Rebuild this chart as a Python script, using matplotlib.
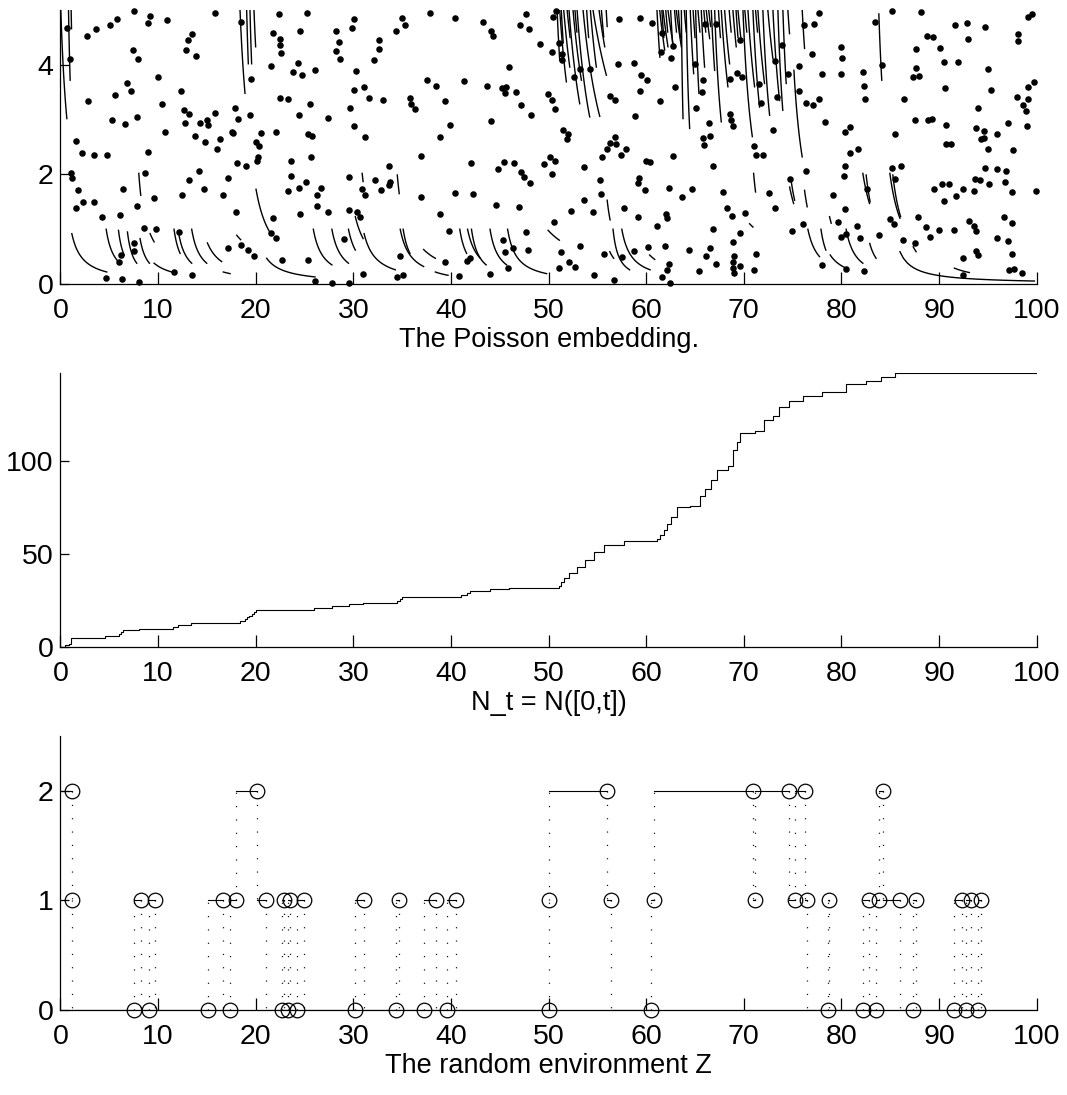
import os
import numpy as np
import matplotlib
matplotlib.use('Agg')
import matplotlib.pyplot as plt
from matplotlib import font_manager as fm

# MATLAB-style narrow Helvetica: take Liberation Sans Narrow if it is there
narrow = [f for f in fm.fontManager.ttflist
          if f.name.startswith('Liberation Sans')
          and ('Narrow' in f.name or 'Narrow' in os.path.basename(f.fname)
               or f.stretch in ('condensed', 'semi-condensed'))]
if narrow:
    plt.rcParams['font.family'] = [narrow[0].name, 'DejaVu Sans']
    plt.rcParams['font.stretch'] = narrow[0].stretch
    tick_fs, label_fs = 22.5, 23.5
else:
    plt.rcParams['font.family'] = ['Liberation Sans', 'DejaVu Sans']
    tick_fs, label_fs = 20.5, 19.5
plt.rcParams['lines.scale_dashes'] = False

# ---- top panel: Poisson points (t, u) ----
pts_a = [(0.68,4.67),(0.99,4.11),(1.09,2.02),(1.13,1.94),(1.60,2.61),(1.60,1.39),(1.84,1.71),
         (2.22,2.39),(2.32,1.49),(2.76,4.53),(2.83,3.34),(3.45,2.35),(3.48,1.49),(3.68,4.65),
         (4.23,1.22),(4.67,0.11),(4.81,2.35),(5.08,4.72),(5.29,3.00),(5.60,3.45),(5.83,4.84),
         (6.04,0.40),(6.18,0.53),(6.35,0.09),(6.41,1.74),(6.58,2.92),(6.11,1.26),(6.82,3.66),
         (7.23,3.52),(7.47,4.28),(7.51,4.99),(7.54,0.74),(7.57,0.60),(7.81,1.43),(7.88,3.05),
         (7.98,4.10),(8.09,0.04),(8.60,1.03),(8.70,2.02),(8.94,2.41),(9.01,4.77),(9.14,4.89),
         (9.62,1.57),(9.79,1.00),(10.00,3.77),(10.37,3.29),(10.68,2.78),(10.95,4.81),(11.60,0.22),
         (12.11,0.95),(12.35,3.52),(12.45,1.63),(12.69,3.17),(12.73,2.93),(12.86,4.28),(13.03,4.46),
         (13.14,3.11),(13.20,1.90),(13.51,4.56),(13.51,0.16),(13.75,2.70),(13.92,4.17),(14.16,2.07),
         (14.26,2.93),(14.74,1.73),(14.84,2.59),(14.98,2.99),(15.08,2.90),(15.86,3.12),(15.86,4.94),
         (16.07,2.47),(16.34,2.64),(16.62,1.62),(17.20,1.94),(17.20,0.65),(17.57,2.78),(17.71,2.75),
         (17.88,3.21),(18.01,1.32),(18.15,3.01),(18.12,2.21),(18.46,4.79),(18.53,0.72),(18.97,2.15),
         (19.24,0.62),(19.41,3.09),(19.52,3.74),(19.86,0.51),(19.99,2.59),(20.27,2.32),(20.37,2.52),
         (20.16,2.24),(20.51,2.75),(21.56,3.98),(21.73,1.20),(21.80,4.59),(22.04,2.77),(22.04,0.84),
         (21.53,0.94),(22.35,4.92),(22.48,4.48),(22.48,4.36),(22.55,4.21),(22.45,3.40),(22.69,0.44),
         (23.30,3.37),(23.27,1.70),(23.58,2.25),(23.58,1.97),(23.85,3.87),(24.36,4.03),(24.43,3.08),
         (24.53,4.62),(24.53,1.28),(24.43,1.76),(24.74,3.82),(25.11,1.86),(25.28,4.95),(25.35,0.44),
         (25.38,2.74),(25.55,3.28),(25.69,2.31),(25.72,2.70),(26.03,3.91),(26.07,0.06),(26.31,1.63),
         (26.31,1.43),(26.71,1.76),(27.36,1.32),(27.40,3.03),(27.84,0.01),(28.22,4.26),(28.22,4.62),
         (28.56,4.41),(28.59,4.11),(29.03,0.83),(29.51,1.96),(29.51,1.36),(29.58,0.01),(29.61,3.22)]
pts_b = [(30.02,4.83),(29.82,4.67),(30.02,2.88),(30.30,3.88),(30.09,3.54),(31.15,2.68),(31.12,3.59),
         (31.56,3.40),(30.33,1.31),(30.67,1.23),(30.98,0.19),(30.91,1.74),(31.22,1.63),(32.14,4.08),
         (32.21,1.89),(32.58,4.45),(32.58,4.29),(32.86,1.72),(33.03,3.35),(33.64,2.15),(33.67,1.80),
         (33.74,1.87),(34.32,4.61),(34.97,4.86),(35.24,4.72),(34.49,0.12),(35.07,0.16),(34.80,0.52),
         (35.79,3.40),(35.89,3.29),(36.30,3.20),(36.92,1.58),(36.98,2.33),(37.56,3.72),(37.90,4.95),
         (38.42,3.61),(38.86,1.27),(38.86,2.68),(39.41,3.34),(39.34,0.40),(39.75,0.96),(39.95,2.90),
         (40.40,4.86),(40.43,1.67),(40.84,0.14),(41.35,3.71),(41.69,0.42),(41.97,0.47),(42.00,2.21),
         (42.27,1.65),(43.23,4.79),(43.64,3.61),(43.98,0.19),(44.08,2.97),(44.15,4.62),(44.35,4.52),
         (44.66,1.45),(44.80,2.10),(45.27,3.57),(45.31,0.80),(45.48,2.22),(45.58,3.48),(45.65,3.59),
         (45.58,0.58),(45.85,0.29),(45.96,3.97),(46.40,0.65),(46.43,2.21),(46.61,3.51),(46.95,1.41),
         (47.05,4.72),(47.15,3.26),(47.22,2.04),(47.49,1.95),(47.73,0.95),(47.70,4.92),(47.90,0.62),
         (47.97,4.66),(48.11,1.85),(48.21,3.09),(49.16,4.38),(49.57,2.19),(49.95,3.47),(50.12,2.32),
         (50.32,2.00),(50.39,3.35),(50.36,4.24),(50.43,4.87),(50.63,2.25),(50.70,3.20),(50.56,1.14),
         (50.73,4.98),(51.04,0.30),(51.04,4.39),(51.31,0.58),(51.38,4.08),(51.42,4.19),(51.52,2.82),
         (51.96,2.73),(51.89,2.65),(52.10,0.40),(52.27,1.33),(52.58,3.77),(52.71,0.32),(53.26,3.93),
         (53.26,0.70),(53.63,2.13),(53.63,1.53),(54.25,3.93),(54.52,1.31),(54.62,0.17),(55.27,1.90),
         (55.37,1.64),(55.51,2.32),(55.68,0.55),(56.02,2.47),(56.26,2.58),(56.29,3.43),(56.81,3.35),
         (56.74,0.07),(56.81,2.69),(56.91,2.55),(57.18,4.84),(57.15,4.01),(57.39,2.36),(57.56,0.49),
         (57.76,1.39),(57.93,2.46),(58.78,0.61),(58.82,3.06),(58.78,4.04),(59.16,1.22),(59.19,1.85),
         (59.29,1.94),(59.33,4.86),(59.43,3.82),(59.40,3.53),(59.84,1.71),(59.94,2.25),(60.15,0.67),
         (60.12,3.72),(60.35,2.22),(60.63,4.77),(61.14,1.06),(61.38,3.34),(61.65,0.13),(61.89,0.70),
         (62.00,1.28),(62.13,1.20),(62.10,0.26),(62.30,1.76),(62.34,0.36),(62.41,0.02),(62.74,2.33),
         (62.92,3.59),(63.70,1.59),(64.38,0.62),(64.69,1.74),(65.00,4.01),(65.13,3.22),(65.40,0.24),
         (61.58,4.59),(61.55,4.24),(62.78,4.35),(62.51,4.13)]
pts_c = [(65.81,3.73),(65.68,3.50),(65.98,4.75),(67.18,4.75),(66.39,2.93),(66.50,2.70),(65.78,2.66),
         (65.88,2.53),(66.84,2.16),(66.87,1.01),(66.53,0.66),(66.09,0.52),(67.14,0.36),(67.83,1.68),
         (68.24,1.38),(68.78,1.25),(68.54,3.75),(68.61,3.10),(68.71,3.00),(68.88,2.89),(69.29,3.85),
         (69.57,4.46),(69.77,3.78),(70.08,1.30),(69.60,0.93),(68.92,0.77),(68.99,0.52),(68.88,0.40),
         (68.88,0.30),(68.99,0.21),(69.60,0.33),(71.07,2.52),(71.24,2.35),(71.96,2.35),(71.00,0.26),
         (71.20,0.54),(71.55,3.65),(71.72,3.31),(72.60,1.67),(73.22,1.38),(73.01,2.82),(73.18,4.07),
         (73.38,3.42),(73.93,4.36),(74.51,3.83),(74.72,1.91),(74.89,0.96),(75.64,3.98),(75.64,3.52),
         (76.12,4.73),(76.01,1.09),(76.32,3.30),(76.39,2.06),(76.94,4.20),(77.11,3.26),(77.17,4.74),
         (77.65,4.94),(77.69,3.38),(77.96,3.83),(78.00,0.35),(78.30,2.96),(79.09,1.63),(79.60,1.14),
         (79.93,4.33),(80.06,4.12),(79.93,3.83),(80.35,2.77),(80.38,2.15),(80.27,1.97),(80.35,1.37),
         (80.48,0.92),(79.93,0.85),(80.48,0.27),(80.89,2.39),(80.89,2.86),(81.68,2.46),(81.64,1.06),
         (81.92,0.84),(82.19,3.87),(82.36,3.61),(82.43,3.38),(82.57,1.73),(82.29,0.24),(83.43,4.78),
         (83.83,0.89),(84.20,4.00),(85.16,4.98),(85.16,2.12),(85.50,2.73),(85.53,1.91),(85.01,1.18),
         (85.39,1.09),(86.14,2.16),(86.35,0.81),(86.39,3.38),(87.55,0.75),(87.62,4.29),(87.65,3.95),
         (87.31,3.77),(87.92,3.79),(87.79,1.23),(88.16,4.96),(87.55,2.99),(88.67,1.04),(88.81,4.52),
         (89.05,0.86),(89.36,4.50),(88.87,2.99),(89.25,3.01),(89.46,1.73),(90.00,0.98),(90.14,4.31),
         (90.31,1.82),(90.48,4.06),(90.48,1.52),(90.62,3.57),(90.75,2.90),(90.72,2.56),(91.27,2.55),
         (91.06,1.82),(91.50,0.98),(91.67,4.73),(91.71,1.60),(91.98,4.06),(92.46,1.74),(92.46,0.47),
         (92.43,0.16),(92.90,4.76),(92.94,4.48),(93.07,1.15),(93.62,1.06),(93.82,0.97),(93.55,1.70),
         (93.69,1.92),(93.76,2.84),(93.79,0.61),(94.03,0.53),(93.96,3.22),(94.23,1.89),(94.27,2.64),
         (94.64,2.67),(94.64,2.80),(94.68,2.11),(94.75,4.70),(95.06,3.93),(95.06,2.46),(95.16,1.82),
         (95.30,3.54),(95.91,2.10),(95.98,2.74),(95.98,0.84),(96.73,1.86),(96.83,2.07),(96.69,1.22),
         (97.03,2.94),(97.03,0.78),(97.48,1.11),(97.48,0.54),(97.51,1.68),(97.58,2.44),(97.65,0.28),
         (97.20,0.26),(97.95,3.42),(98.12,4.56),(98.12,4.44),(98.50,0.21),(98.60,3.26),(98.91,3.15),
         (98.98,2.89),(99.08,4.87),(99.12,3.37),(99.12,3.59),(99.49,4.92),(99.73,3.69),(99.97,1.69)]

# ---- top panel: intensity pieces (t0, lambda0, t1, lambda1) ----
arcs_low = [(1.16,0.92,4.74,0.22),(4.68,1.00,5.97,0.40),(5.94,0.98,6.52,0.53),(6.86,0.95,7.81,0.38),
            (8.15,0.83,9.11,0.38),(9.18,0.92,9.59,0.77),(9.59,0.38,11.40,0.22),(8.02,2.02,8.22,1.62),
            (11.63,1.00,12.25,0.56),(12.11,0.92,13.44,0.38),(13.44,1.00,14.98,0.38),(15.05,0.75,16.51,0.41),
            (16.68,0.22,17.37,0.19),(18.05,0.89,18.46,0.81),(20.03,1.73,21.53,0.92),(21.12,0.47,26.07,0.13),
            (25.9,1.00,27.8,0.35),(27.8,1.00,29.5,0.38),
            (29.5,1.0,30.2,0.62),(30.2,1.23,31.0,0.83),(30.9,2.02,31.0,1.87),(31.1,0.92,34.3,0.26),
            (34.5,1.99,34.7,1.65),(34.8,1.0,37.2,0.32),(35.1,1.0,35.8,0.56),(37.2,0.63,38.4,0.47),
            (38.4,0.22,39.7,0.16),(40.9,1.0,41.6,0.56),(41.7,1.0,43.0,0.47),(42.1,1.0,43.6,0.35),
            (44.0,1.0,45.7,0.35),(45.8,1.0,49.8,0.19),(49.95,0.98,51.1,0.80),(56.0,1.53,56.3,1.17),
            (56.6,1.0,58.3,0.26),(57.5,1.0,60.4,0.26),(56.27,0.59,56.67,0.47),(60.35,0.53,60.87,0.45),
            (71.0,2.02,71.2,1.68),(74.69,1.77,75.1,1.47),(74.86,1.87,75.2,1.53),(76.22,1.71,76.49,1.41),
            (76.56,1.0,77.75,0.5),(77.9,1.0,78.4,0.62),(78.78,1.23,78.95,1.11),(78.85,0.53,80.48,0.29),
            (80.48,1.0,82.19,0.38),(82.9,0.74,83.55,0.47),(82.19,2.02,82.87,1.47),(82.53,1.99,82.94,1.50),
            (84.96,2.02,85.99,1.20),(85.26,1.99,86.06,1.23),(85.99,0.59,99.76,0.055),(87.35,0.68,87.65,0.59),
            (91.57,0.29,93.1,0.21),(70.59,1.1,70.93,1.04),(75.13,3.90,75.98,2.32),(83.83,4.93,84.13,3.72)]
arcs_top = [(0.03,5,0.65,3.02),(0.82,5,0.99,3.72),(1.09,5,1.13,4.66),
            (18.39,5,18.9,3.48),(19.07,5,19.24,4.02),(19.41,5,19.58,4.02),(19.82,5,19.99,4.33),
            (50.87,5,51.14,4.08),(51.14,5,51.82,3.69),(51.55,5,52.17,3.96),(52.09,5,53.19,3.29),
            (52.5,5,53.36,3.72),(52.92,5,54.21,3.05),(53.53,5,55.24,3.06),(54.28,5,54.89,3.96),
            (54.55,5,55.92,3.81),(55.17,5,55.75,4.33),(55.41,5,55.65,4.51),
            (51.3,5,51.5,4.4),(51.9,5,52.2,4.5),(52.7,5,52.9,4.6),(53.9,5,54.1,4.5),(55.9,5,56.0,4.7),
            (61.1,5,61.4,4.14),(61.38,5,61.89,4.27),(61.72,5,62.23,4.33),(62.23,5,62.74,4.39),
            (63.08,5,63.6,4.33),(63.6,5,63.77,3.02),(64.1,5,64.45,2.84),(64.51,5,64.86,3.84),
            (65.06,5,65.40,3.48),(65.64,5,65.98,3.96),(66.15,5,66.5,4.48),(66.67,5,67.01,3.90),
            (61.6,5,61.8,4.5),(62.0,5,62.2,4.6),(62.5,5,62.7,4.4),(62.9,5,63.1,4.6),(63.3,5,63.5,4.5),
            (63.9,5,64.1,4.6),(64.8,5,65.0,4.5),(65.3,5,65.5,4.6),(65.9,5,66.1,4.6),(66.4,5,66.6,4.7),
            (67.01,5,67.69,2.96),(67.69,5,68.37,3.60),(68.03,5,68.54,4.02),(68.88,5,69.22,4.33),
            (69.4,5,69.74,4.42),(69.91,5,70.87,2.69),(70.42,5,71.1,3.60),(70.93,5,71.61,3.23),
            (71.44,5,72.12,3.66),(71.95,5,72.64,3.08),(72.46,5,72.98,4.11),(72.98,5,73.66,3.35),
            (73.49,5,73.99,3.17),(74.0,5,74.34,3.66),(74.51,5,74.68,4.57),(75.98,5,76.22,4.30),
            (67.4,5,67.6,4.5),(68.5,5,68.7,4.6),(69.2,5,69.4,4.5),(70.1,5,70.3,4.6),(71.2,5,71.4,4.6)]

# ---- middle panel: counting process N_t, breakpoints (t, N) ----
n_t = [0,0.5,0.9,1.06,4.6,6.0,6.2,6.4,8.0,11.5,12.0,13.4,18.4,18.9,19.1,19.3,19.6,19.8,20.0,26.0,
       27.8,29.6,31.0,34.5,34.8,35.0,41.0,41.6,41.9,44.0,45.9,51.1,51.3,51.6,52.1,52.9,53.7,54.6,
       55.7,57.7,61.1,61.4,61.8,62.1,62.5,63.2,64.5,65.5,66.0,66.6,67.3,68.4,68.9,69.3,69.6,71.1,
       72.1,73.0,73.6,74.6,76.1,78.0,80.5,82.5,84.1,85.5,100]
n_val = [0,1,2,5,6,7,8,9,10,11,12,13,14,15,16,17,18,19,20,21,
         22,23,24,25,26,27,28,29,30,31,32,33,35,37,40,43,47,51,
         55,57,58,60,63,66,70,75,76,81,85,90,95,97,106,110,115,116,
         122,124,129,132,135,137,141,143,145,147,147]

# ---- bottom panel: environment Z, jump times and value after each jump ----
z_start = 2
z_jump_t = [1.16,1.20,7.58,8.22,9.07,9.63,15.1,16.68,17.39,18.02,20.1,21.06,22.68,22.93,23.28,23.46,
            24.23,24.94,30.16,31.04,34.32,34.67,37.21,38.45,39.61,40.56,50.0,50.02,55.99,56.35,60.45,
            60.8,70.96,71.14,74.6,75.2,76.31,76.45,78.59,78.73,82.19,82.8,83.58,83.87,84.22,86.0,
            87.33,87.61,91.53,92.35,92.78,93.24,93.99,94.28]
z_new = [1,0,1,0,1,0,1,0,1,2,1,0,1,0,1,0,
         1,0,1,0,1,0,1,0,1,0,1,2,1,0,1,
         2,1,2,1,2,1,0,1,0,1,0,1,2,1,0,
         1,0,1,0,1,0,1,0]

fig = plt.figure(figsize=(10.67, 10.95), dpi=100)
ax1 = fig.add_axes([0.0567, 0.7406, 0.9149, 0.2502])
ax2 = fig.add_axes([0.0567, 0.4089, 0.9149, 0.2502])
ax3 = fig.add_axes([0.0567, 0.0776, 0.9149, 0.2502])

def style(ax):
    for s in ['top', 'right']:
        ax.spines[s].set_visible(False)
    for s in ['left', 'bottom']:
        ax.spines[s].set_linewidth(0.9)
    ax.set_xlim(0, 100)
    ax.set_xticks(np.arange(0, 101, 10))
    ax.tick_params(axis='both', direction='in', labelsize=tick_fs, width=0.9)
    ax.tick_params(axis='x', length=9, pad=10)
    ax.tick_params(axis='y', length=6.7, pad=5.2)

def harmonic_arc(ax, t0, l0, t1, l1):
    tt = np.linspace(t0, t1, 40)
    inv = 1/l0 + (1/l1 - 1/l0) * (tt - t0) / (t1 - t0)
    ax.plot(tt, 1/inv, color='k', lw=1.0)

# top
pts = np.array(pts_a + pts_b + pts_c)
for a in arcs_low + arcs_top:
    harmonic_arc(ax1, *a)
ax1.plot(pts[:, 0], pts[:, 1], 'o', color='k', ms=3.7, clip_on=False)
ax1.set_ylim(0, 5)
ax1.set_yticks([0, 2, 4])
style(ax1)
ax1.set_xlabel('The Poisson embedding.', fontsize=label_fs, labelpad=2)

# middle
ax2.step(n_t, n_val, where='post', color='k', lw=0.8)
ax2.set_ylim(0, 147)
ax2.set_yticks([0, 50, 100])
style(ax2)
ax2.set_xlabel('N_t = N([0,t])', fontsize=label_fs, labelpad=2)

# bottom
seg_t = [0] + z_jump_t + [100]
seg_z = [z_start] + z_new
old_z = [z_start] + z_new[:-1]
for i in range(len(seg_z)):
    ax3.plot([seg_t[i], seg_t[i + 1]], [seg_z[i], seg_z[i]], color='k', lw=0.8)
for t, z0, z1 in zip(z_jump_t, old_z, z_new):
    ax3.plot([t, t], [z0, z1], color='k', lw=0.9, linestyle=(0, (0.8, 8.8)))
ax3.plot(z_jump_t, old_z, 'o', mfc='none', mec='k', mew=0.9, ms=10.5, clip_on=False)
ax3.set_ylim(0, 2.5)
ax3.set_yticks([0, 1, 2])
style(ax3)
ax3.set_xlabel('The random environment Z', fontsize=label_fs, labelpad=2)

fig.savefig('out.png', dpi=100)
